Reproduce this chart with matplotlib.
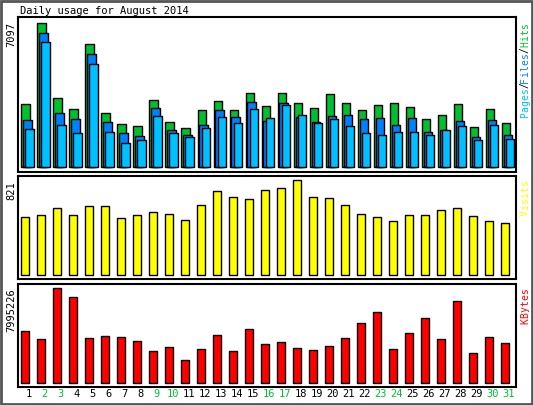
import numpy as np
import matplotlib.pyplot as plt
from matplotlib.patches import Rectangle

days = [str(d) for d in range(1, 32)]
weekend = [2, 3, 9, 10, 16, 17, 23, 24, 30, 31]

hits = [3083, 7097, 3377, 2853, 6034, 2643, 2104, 2007, 3294, 2202, 1923, 2790, 3245, 2790, 3622, 2985,
        3622, 3132, 2887, 3573, 3132, 2790, 3034, 3132, 2936, 2349, 2545, 3083, 1958, 2839, 2153]
files = [2300, 6607, 2643, 2349, 5530, 2202, 1664, 1532, 2887, 1811, 1566, 2055, 2790, 2447, 3181, 2251,
         3132, 2447, 2202, 2496, 2545, 2349, 2398, 2055, 2398, 1713, 1811, 2251, 1468, 2300, 1566]
pages = [1860, 6166, 2055, 1664, 5041, 1713, 1175, 1321, 2496, 1664, 1468, 1909, 2447, 2153, 2839, 2398,
         3034, 2545, 2153, 2349, 2007, 1664, 1566, 1713, 1713, 1566, 1811, 2007, 1321, 2055, 1370]
visits = [501, 521, 579, 521, 599, 599, 493, 521, 544, 530, 475, 608, 726, 674, 657, 735,
          752, 821, 674, 665, 608, 530, 501, 467, 521, 521, 562, 579, 510, 467, 449]
kbytes = [4376, 3703, 7995.226, 7238, 3787, 3956, 3871, 3535, 2693, 3030, 1936, 2861, 4040, 2693, 4545, 3282,
          3451, 2946, 2777, 3114, 3787, 5050, 5975, 2861, 4208, 5470, 3703, 6901, 2525, 3871, 3366]
kbytes = [k * 1000 for k in kbytes]

W, H = 533, 405
fig = plt.figure(figsize=(W / 100, H / 100), dpi=100)
fig.patch.set_facecolor('white')
mono = 'DejaVu Sans Mono'

def add_panel(top, bottom):
    ax = fig.add_axes([18 / W, 1 - bottom / H, 498 / W, (bottom - top) / H])
    ax.set_xlim(0, 31.1)
    ax.set_xticks([]); ax.set_yticks([])
    for s in ax.spines.values():
        s.set_linewidth(1.5)
    return ax

x = np.arange(31)
ek = dict(edgecolor='black', linewidth=1)

ax1 = add_panel(17.3, 171.7)
ax1.bar(x + 0.21, hits, 0.52, align='edge', color='#00c030', **ek)
ax1.bar(x + 0.33, files, 0.52, align='edge', color='#0080ff', **ek)
ax1.bar(x + 0.46, pages, 0.52, align='edge', color='#00c0ff', **ek)
ax1.set_ylim(-230, 7356)

ax2 = add_panel(175.7, 279.3)
ax2.bar(x + 0.19, visits, 0.5, align='edge', color='#ffff00', **ek)
ax2.set_ylim(-35, 861)

ax3 = add_panel(284, 387)
ax3.bar(x + 0.19, kbytes, 0.5, align='edge', color='#ff0000', **ek)
ax3.set_ylim(-311000, 8357000)

# left max labels
for y, t in [(22, '7097'), (181, '821'), (288, '7995226')]:
    fig.text(11 / W, 1 - y / H, t, rotation=90, ha='center', va='top', fontsize=7.5, family=mono)

# right colored labels, bottom to top
def right_label(y_bottom, parts):
    y = y_bottom
    step = 5.9
    for text, col in parts:
        for ch in text:
            fig.text(525 / W, 1 - (y - step / 2) / H, ch, rotation=90, ha='center', va='center',
                     fontsize=7, family=mono, color=col)
            y -= step

right_label(118, [('Pages', '#00c0ff'), ('/', 'black'), ('Files', '#0080ff'),
                  ('/', 'black'), ('Hits', '#00c030')])
right_label(216, [('Visits', '#ffff00')])
right_label(324, [('KBytes', '#ff0000')])

fig.text(20 / W, 1 - 11 / H, 'Daily usage for August 2014', ha='left', va='center', fontsize=7.5, family=mono)

for i, d in enumerate(days):
    col = '#00c030' if int(d) in weekend else 'black'
    fig.text((18 + (i + 0.67) * 16) / W, 1 - 394 / H, d, ha='center', va='center', fontsize=7.5,
             family=mono, color=col)

fig.patches.append(Rectangle((0.002, 0.002), 0.996, 0.996, transform=fig.transFigure, fill=False,
                             edgecolor='#555555', linewidth=2))

fig.savefig('out.png', dpi=100)
